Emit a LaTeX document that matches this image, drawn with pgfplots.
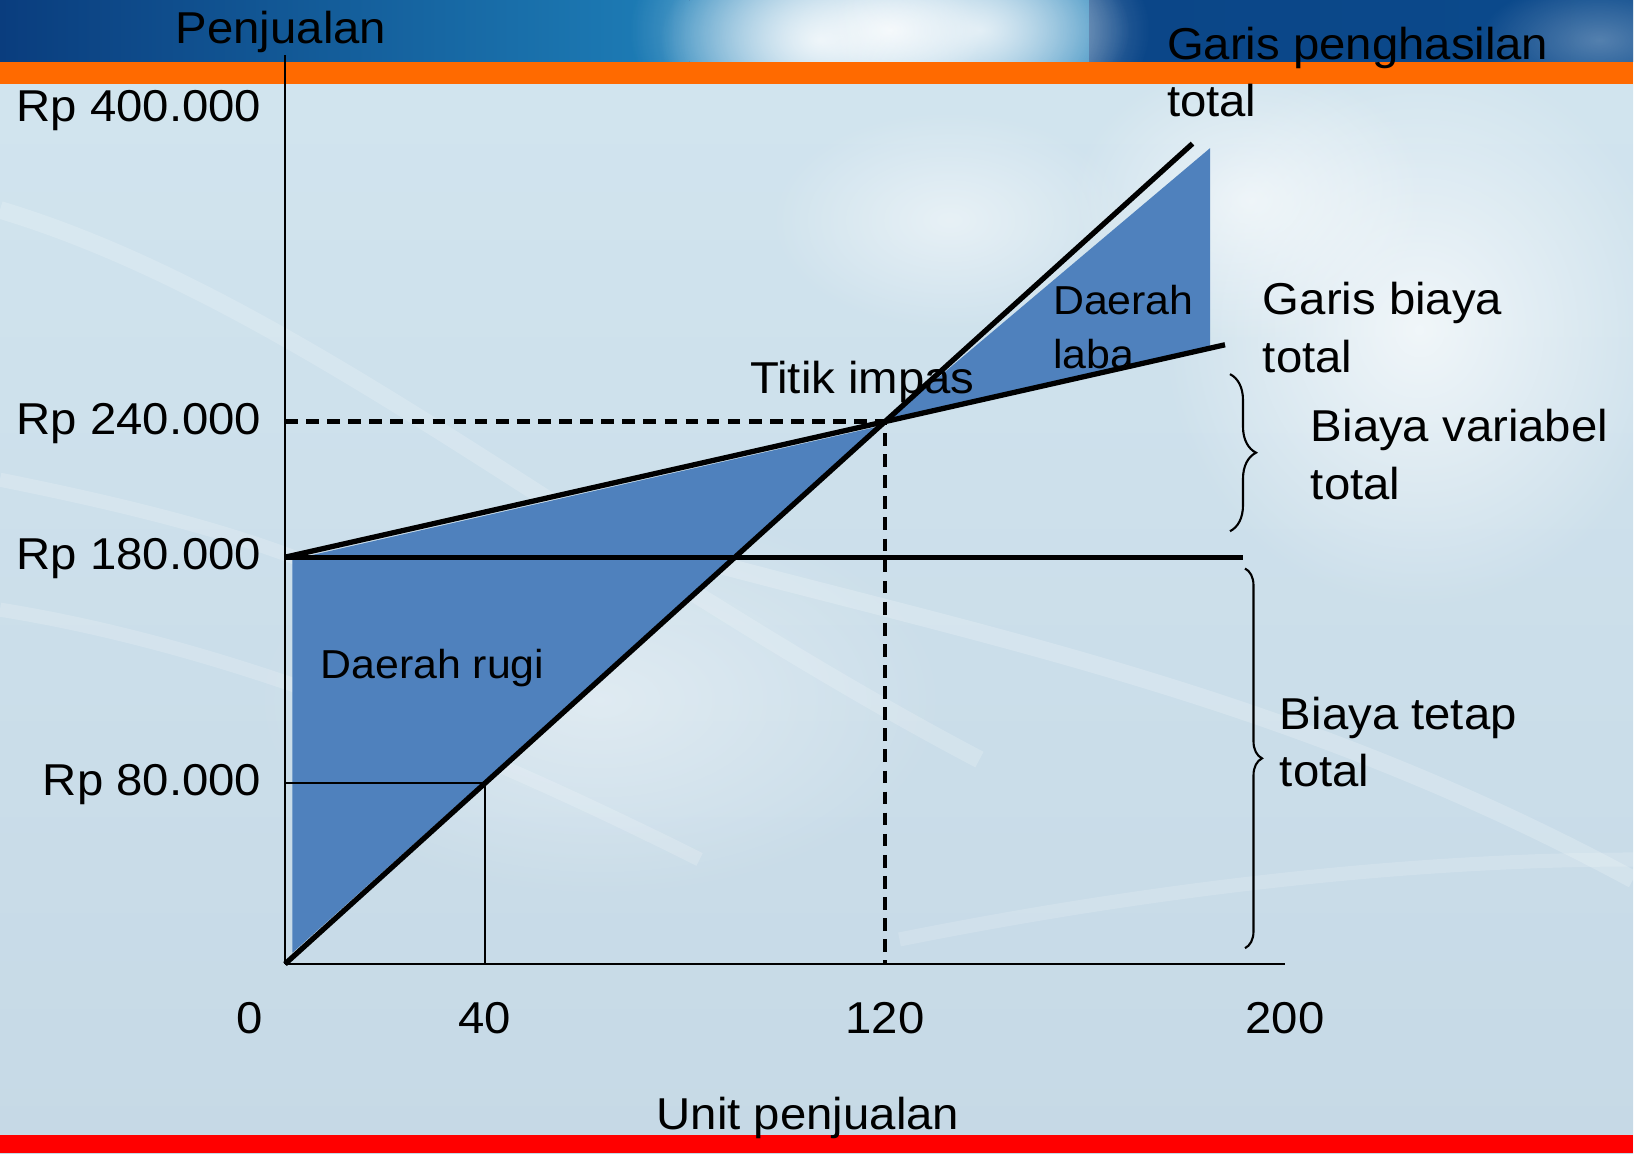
\documentclass[border=0pt]{standalone}
\usepackage{fontspec}
\setmainfont[FakeStretch=1.06]{Liberation Sans}
\usepackage{pgfplots}
\pgfplotsset{compat=1.18}
\usetikzlibrary{decorations.pathreplacing,fadings}
\tikzfading[name=soft, inner color=transparent!0, outer color=transparent!100]
\definecolor{bandblue}{HTML}{0A3D7E}
\definecolor{bandright}{HTML}{0B4A8C}
\definecolor{bandteal}{HTML}{1E7FB8}
\definecolor{orangeband}{HTML}{FF6A00}
\definecolor{redband}{HTML}{FF0000}
\definecolor{bgtop}{HTML}{D2E5EF}
\definecolor{bgbot}{HTML}{C6D9E6}
\definecolor{areablue}{HTML}{4F81BD}
\newcommand{\fs}{\fontsize{12.7}{15.9}\selectfont}
\newcommand{\fss}{\fontsize{11.5}{14}\selectfont}

\begin{document}
\begin{tikzpicture}
\useasboundingbox (0,0) rectangle (16.34,11.54);
% ---------- slide background ----------
\begin{scope}[x=0.01cm,y=-0.01cm,yshift=11.54cm]
  \shade[top color=bgtop, bottom color=bgbot] (0,0) rectangle (1634,1154);
  \fill[white, opacity=0.7, path fading=soft] (1420,330) ellipse [x radius=260, y radius=280];
  \fill[white, opacity=0.6, path fading=soft] (1250,200) ellipse [x radius=180, y radius=140];
  \fill[white, opacity=0.5, path fading=soft] (950,220) ellipse [x radius=180, y radius=110];
  \fill[white, opacity=0.4, path fading=soft] (600,700) ellipse [x radius=350, y radius=200];
  \draw[white, opacity=0.18, line width=5pt] (0,210) .. controls (300,300) and (600,560) .. (980,760);
  \draw[white, opacity=0.18, line width=4pt] (0,480) .. controls (200,520) and (330,560) .. (420,620);
  \draw[white, opacity=0.18, line width=4pt] (0,610) .. controls (250,650) and (500,760) .. (700,860);
  \draw[white, opacity=0.2, line width=5pt] (700,560) .. controls (1000,640) and (1300,700) .. (1634,880);
  \draw[white, opacity=0.15, line width=4pt] (900,940) .. controls (1200,880) and (1450,860) .. (1634,860);
  % top band
  \shade[left color=bandblue, right color=bandright] (0,0) rectangle (1634,62);
  \shade[left color=bandblue, right color=bandteal] (0,0) rectangle (690,62);
  \begin{scope}
    \clip (0,0) rectangle (1634,62);
    \fill[bandteal] (690,0) rectangle (1090,62);
    \fill[white, opacity=0.9, path fading=soft] (890,30) ellipse [x radius=260, y radius=140];
    \fill[white, opacity=0.8, path fading=soft] (820,40) ellipse [x radius=160, y radius=100];
    \fill[white, opacity=0.7, path fading=soft] (980,30) ellipse [x radius=150, y radius=90];
    \fill[white, opacity=0.3, path fading=soft] (1600,40) ellipse [x radius=120, y radius=60];
  \end{scope}
  \fill[orangeband] (0,62) rectangle (1634,84);
  \fill[redband] (0,1136) rectangle (1634,1154);
\end{scope}
% ---------- chart ----------
\begin{axis}[
  at={(2.85cm,1.90cm)}, anchor=south west,
  scale only axis, width=10cm, height=9.085cm,
  xmin=0, xmax=200, ymin=0, ymax=402000,
  axis lines=left, axis line style={-, line width=0.6pt, black},
  xtick={40,120,200}, xticklabels={40,120,200},
  ytick={80000,180000,240000},
  yticklabels={Rp 80.000, Rp 180.000, Rp 240.000},
  extra x ticks={0}, extra x tick labels={0},
  extra x tick style={grid=none, xticklabel style={xshift=-0.35cm}},
  extra y ticks={400000}, extra y tick labels={Rp 400.000},
  extra y tick style={grid=none, yticklabel style={yshift=-0.49cm}},
  major tick length=0pt,
  scaled ticks=false,
  tick label style={font=\fs, inner sep=0pt, text height=0.72em, text depth=0pt},
  xticklabel style={anchor=center, yshift=-0.57cm},
  yticklabel style={anchor=east, xshift=-0.23cm},
  xlabel={Unit penjualan}, ylabel={Penjualan},
  label style={font=\fs, inner sep=0pt, text height=0.72em, text depth=0pt},
  xlabel style={at={(axis description cs:0.523,0)}, anchor=center, yshift=-1.53cm},
  ylabel style={rotate=-90, at={(axis description cs:-0.004,1.027)}, anchor=center},
  clip=false,
]
% loss area and profit area
\addplot[draw=none, fill=areablue] coordinates {(1.5,5000) (119,238000) (1.5,179000)} -- cycle;
\addplot[draw=none, fill=areablue] coordinates {(121,241500) (185,361000) (185,272500)} -- cycle;
% helper lines
\addplot[black, line width=0.5pt] coordinates {(0,80000) (40,80000) (40,0)};
\addplot[black, line width=1.2pt, dash pattern=on 3.6pt off 2.4pt] coordinates {(0,240000) (120,240000) (120,0)};
% fixed cost, total cost, total revenue
\addplot[black, line width=1.5pt] coordinates {(0,180000) (191.5,180000)};
\addplot[black, line width=1.5pt] coordinates {(0,180000) (188,274000)};
\addplot[black, line width=1.5pt] coordinates {(0,0) (181.5,363000)};
% braces
\draw[decorate, decoration={brace, amplitude=0.26cm}, line width=0.6pt]
  (axis cs:189,261000) -- (axis cs:189,191500);
\draw[decorate, decoration={brace, amplitude=0.17cm}, line width=0.6pt]
  (axis cs:192,175000) -- (axis cs:192,7000);
\end{axis}
% ---------- annotations ----------
\begin{scope}[x=0.01cm,y=-0.01cm,yshift=11.54cm,
  every node/.style={anchor=west, inner sep=0pt, text height=0.72em, text depth=0pt, font=\fs}]
  \node at (1167,47) {Garis penghasilan};
  \node at (1167,104) {total};
  \node at (1263,302) {Garis biaya};
  \node at (1263,360) {total};
  \node at (1311,429) {Biaya variabel};
  \node at (1311,487) {total};
  \node at (1280,717) {Biaya tetap};
  \node at (1280,774) {total};
  \node[font=\fss] at (1053,302) {Daerah};
  \node[font=\fss] at (1053,356) {laba};
  \node at (750,381) {Titik impas};
  \node[font=\fss] at (320,666) {Daerah rugi};
\end{scope}
\end{tikzpicture}
\end{document}
